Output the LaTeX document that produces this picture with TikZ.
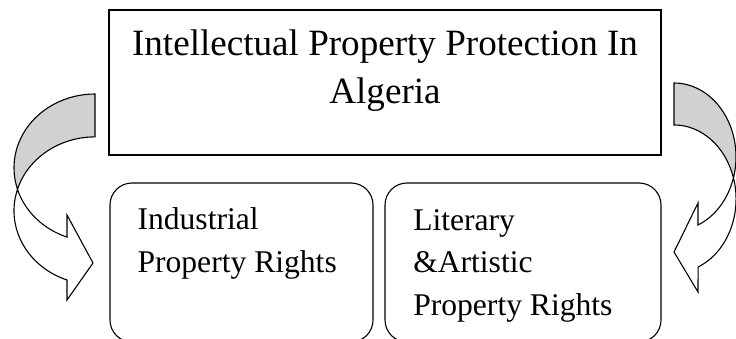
\documentclass[tikz,border=0pt]{standalone}
\usepackage{fontspec}
\setmainfont{Liberation Serif}
\usetikzlibrary{calc}
\definecolor{ribbongray}{gray}{0.82}

\begin{document}
\begin{tikzpicture}[x=1pt, y=1pt, line width=1.1pt,
  topbox/.style={draw, rectangle, minimum width=552pt, minimum height=145pt},
  rightsbox/.style={draw, rectangle, rounded corners=22pt, minimum height=159pt},
  bigtext/.style={font=\fontsize{37.1}{48}\selectfont, align=center, inner sep=0pt},
  smalltext/.style={font=\fontsize{31.6}{42.5}\selectfont, align=left, inner sep=0pt}]
\useasboundingbox (0,0) rectangle (736,338);
\clip (0,0) rectangle (736,338);

%boxes
\node[topbox] (ipp) at (385,255.5) {};
\node[rightsbox, minimum width=263pt] (industrial) at (241.5,75.5) {};
\node[rightsbox, minimum width=276pt] (literary) at (523,75.5) {};

% base = last line
\node[bigtext, anchor=base] (ipptext) at (385,234.7) {Intellectual Property Protection In\\Algeria};
\node[smalltext, anchor=base west] (indtext) at (137,66) {Industrial\\Property Rights};
\node[smalltext, anchor=base west] (littext) at (412.7,23) {Literary\\\&Artistic\\Property Rights};

%left arrow
\fill[ribbongray, draw=black] (95,244) arc[start angle=90, end angle=196.9, x radius=81, y radius=73.8]
  arc[start angle=163.1, end angle=90, x radius=81, y radius=73.8] -- cycle;
\draw[fill=white] (17.5,148.7) arc[start angle=163.1, end angle=249.8, x radius=81, y radius=73.8]
  -- (67,38) -- (93,75) -- (67,123) -- (67,100.9)
  arc[start angle=249.8, end angle=196.9, x radius=81, y radius=73.8] -- cycle;

%right arrow
\fill[ribbongray, draw=black] (674,255) arc[start angle=90, end angle=-16.5, x radius=62, y radius=73.9]
  arc[start angle=16.5, end angle=90, x radius=62, y radius=73.9] -- cycle;
\draw[fill=white] (733.5,160.1) arc[start angle=16.5, end angle=-67.2, x radius=62, y radius=73.9]
  -- (698,46) -- (674,86) -- (698,135) -- (698,113)
  arc[start angle=-67.2, end angle=-16.5, x radius=62, y radius=73.9] -- cycle;

\end{tikzpicture}
\end{document}
